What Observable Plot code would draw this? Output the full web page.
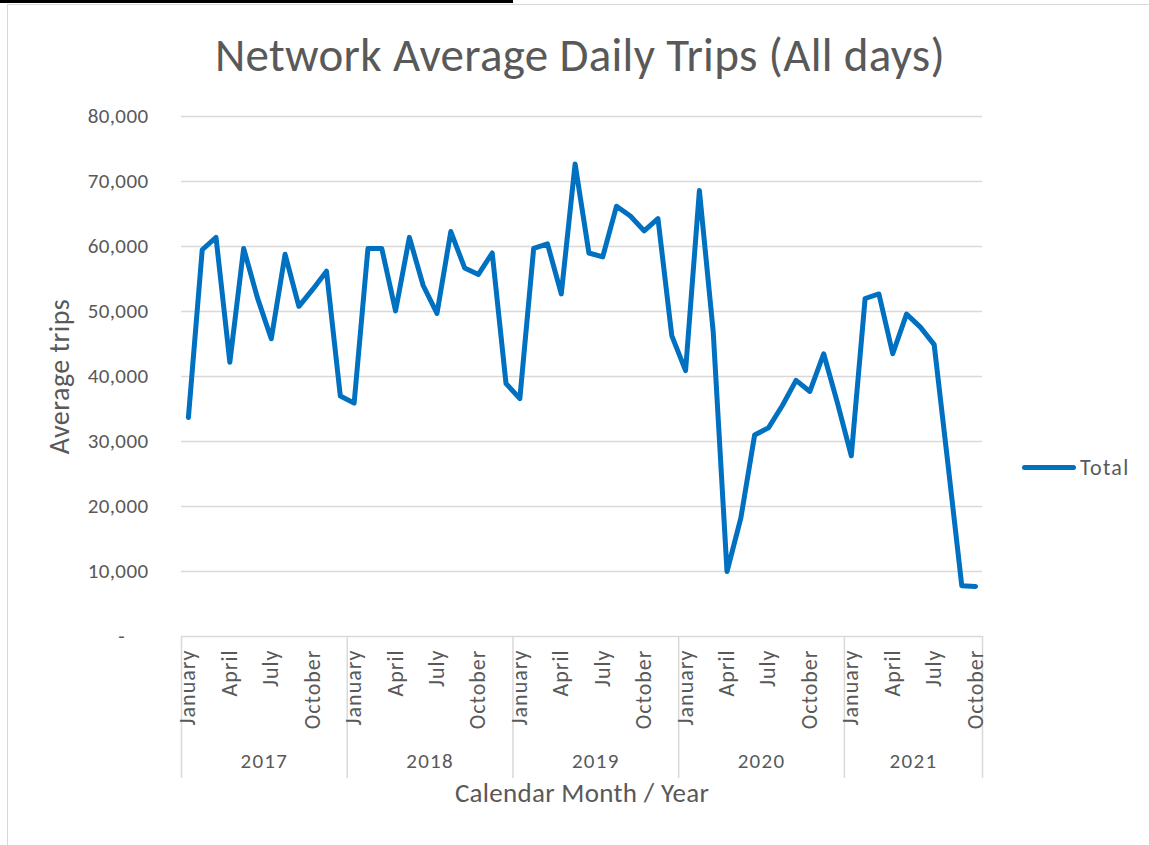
<!DOCTYPE html>
<html>
<head>
<meta charset="utf-8">
<script src="https://cdn.jsdelivr.net/npm/d3@7"></script>
<script src="https://cdn.jsdelivr.net/npm/@observablehq/plot@0.6"></script>
<style>
  html, body { margin: 0; padding: 0; background: #fff; width: 1149px; height: 845px; overflow: hidden; }
  body { position: relative; font-family: Carlito, Calibri, Lato, "Open Sans", sans-serif; color: #595959; }
  #topbar { position: absolute; left: 0; top: 0; width: 513px; height: 3px; background: #000; }
  #frame { position: absolute; left: 7px; top: 4px; right: -2px; bottom: -2px; border-left: 1px solid #d9d9d9; border-top: 1px solid #d9d9d9; }
  #title { position: absolute; left: 0; width: 1160px; top: 26px; text-align: center; font-size: 47px; color: #595959; white-space: nowrap; letter-spacing: 0.3px; }
  #chart { position: absolute; left: 0; top: 100px; }
  #legend { position: absolute; left: 1022px; top: 454px; display: flex; align-items: center; font-size: 22px; color: #595959; letter-spacing: 1.3px; }
  #legend .sw { width: 54px; height: 5px; border-radius: 3px; margin-right: 4px; }
  #chart g[aria-label="x-axis tick label"] text { letter-spacing: 1px; }
  #chart g[aria-label="y-axis tick label"] text { letter-spacing: 0.4px; }
  #chart g[aria-label="text"][font-size="21"] text { letter-spacing: 1.3px; }
  #chart g[aria-label="text"][font-size="27"] text { letter-spacing: 0.3px; }
  #chart g[aria-label="text"][font-size="28"] text { letter-spacing: 0.5px; }
</style>
</head>
<body>
<div id="topbar"></div>
<div id="frame"></div>
<div id="title"></div>
<div id="chart"></div>
<div id="legend"></div>
<script>
const chartTitle = "Network Average Daily Trips (All days)";
const xTitle = "Calendar Month / Year";
const yTitle = "Average trips";
const seriesName = "Total";
const monthNames = ["January","February","March","April","May","June","July","August","September","October","November","December"];
const shownMonths = ["January","April","July","October"];
const years = [2017, 2018, 2019, 2020, 2021];
const trips2017 = [33700, 59500, 61400, 42200, 59700, 52100, 45800, 58800, 50800, 53400, 56200, 37000];
const trips2018 = [35900, 59700, 59700, 50100, 61400, 54000, 49700, 62300, 56700, 55700, 59000, 38900];
const trips2019 = [36600, 59700, 60400, 52700, 72700, 59000, 58400, 66200, 64700, 62400, 64300, 46300];
const trips2020 = [40900, 68600, 46900, 10000, 18200, 31000, 32100, 35500, 39400, 37700, 43500, 35900];
const trips2021 = [27800, 52000, 52700, 43500, 49600, 47600, 44900, 26500, 7800, 7700];
const yTicks = [0, 10000, 20000, 30000, 40000, 50000, 60000, 70000, 80000];

const tripsByYear = [trips2017, trips2018, trips2019, trips2020, trips2021];
const data = [];
years.forEach((yr, yi) => {
  tripsByYear[yi].forEach((v, mi) => {
    data.push({i: data.length, year: yr, month: monthNames[mi], value: v});
  });
});
const n = data.length;
const monthTicks = data.filter(d => shownMonths.includes(d.month)).map(d => d.i);
const labelOf = new Map(data.map(d => [d.i, d.month]));
const yearInfo = years.map(yr => {
  const rows = data.filter(d => d.year === yr);
  const first = rows[0].i, last = rows[rows.length - 1].i;
  return {year: String(yr), start: first - 0.5, end: last + 0.5, mid: (first + last) / 2};
});
const separators = [yearInfo[0].start, ...yearInfo.map(d => d.end)];

const fmt = d3.format(",");
const textColor = "#595959";
const gridColor = "#d9d9d9";
const lineColor = "#0070C0";
const font = "Carlito, Calibri, Lato, 'Open Sans', sans-serif";

document.getElementById("title").textContent = chartTitle;
const lg = document.getElementById("legend");
const sw = document.createElement("div"); sw.className = "sw"; sw.style.background = lineColor;
const lt = document.createElement("span"); lt.textContent = seriesName;
lg.appendChild(sw); lg.appendChild(lt);

const plot = Plot.plot({
  width: 1149,
  height: 730,
  marginTop: 16,
  marginBottom: 194,
  marginLeft: 181,
  marginRight: 167,
  style: {fontFamily: font, color: textColor, background: "transparent", overflow: "visible"},
  x: {type: "linear", domain: [-0.5, n - 0.5]},
  y: {domain: [0, 80000]},
  marks: [
    Plot.ruleY(yTicks, {stroke: gridColor, strokeWidth: 1.5, strokeOpacity: 1}),
    Plot.axisY({ticks: yTicks, tickSize: 0, tickPadding: 33, label: null,
      tickFormat: d => d === 0 ? "-\u2007\u2007" : fmt(d), fontSize: 21, fill: textColor}),
    Plot.axisX({ticks: separators, tickSize: 142, strokeWidth: 1.5, stroke: gridColor, strokeOpacity: 1, tickFormat: () => "", label: null}),
    Plot.axisX({ticks: monthTicks, tickSize: 0, tickPadding: 13, tickRotate: -90, label: null,
      tickFormat: d => labelOf.get(d), fontSize: 22, fill: textColor}),
    Plot.text(yearInfo, {x: "mid", text: "year", frameAnchor: "bottom", dy: 131, fontSize: 21, fill: textColor}),
    Plot.text([xTitle], {frameAnchor: "bottom", dy: 165, fontSize: 27, fill: textColor}),
    Plot.text([yTitle], {frameAnchor: "left", textAnchor: "middle", dx: -121, rotate: -90, fontSize: 28, fill: textColor}),
    Plot.line(data, {x: "i", y: "value", stroke: lineColor, strokeWidth: 5, strokeLinejoin: "round", strokeLinecap: "round"})
  ]
});
document.getElementById("chart").appendChild(plot);
</script>
</body>
</html>
